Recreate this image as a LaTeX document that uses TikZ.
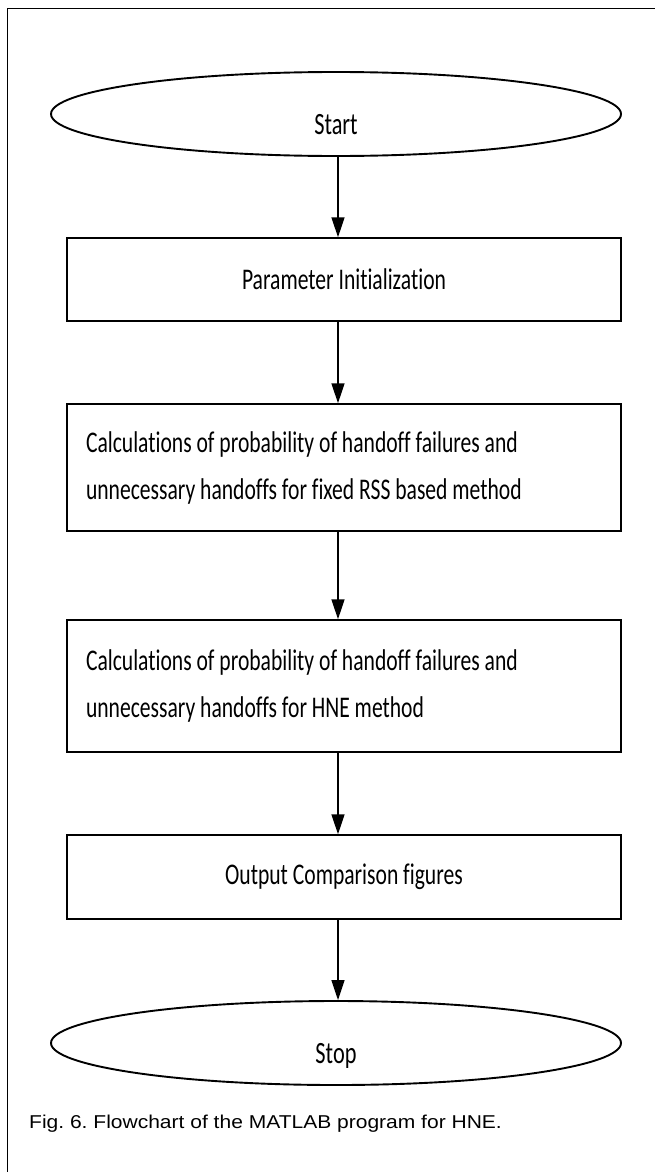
\documentclass[tikz,border=0pt]{standalone}
\usepackage{fontspec}
\setmainfont{Carlito}[FakeStretch=0.72,Ligatures=NoCommon]
\newfontfamily\capfont{Liberation Sans}[FakeStretch=1.13]
\usetikzlibrary{arrows.meta,shapes.geometric}
\frenchspacing
% terminal label set low inside its ellipse
\newcommand{\lowlabel}[2]{\raisebox{#1}[21pt][0pt]{#2}}
\begin{document}
\begin{tikzpicture}[x=1pt,y=-1pt,
  terminal/.style={ellipse,draw,line width=1.9pt,minimum width=570pt,
    minimum height=84pt,inner sep=0pt,font=\fontsize{31}{36}\selectfont},
  stepbox/.style={rectangle,draw,line width=1.5pt,minimum width=554pt,
    inner sep=0pt,font=\fontsize{30}{47}\selectfont},
  wrapped/.style={text width=516pt,align=flush left},
  flow/.style={line width=1.5pt,-{Triangle[length=20pt,width=13pt]}},
  frame/.style={line width=1.3pt}
]
\useasboundingbox (0,0) rectangle (655,1172);

% open frame: top and left edges only
\coordinate (fr) at (655,8.3);
\coordinate (fc) at (7.5,8.3);
\coordinate (fb) at (7.5,1172);
\draw[frame] (fr) -- (fc) -- (fb);

% flowchart steps
\node[terminal] (start) at (336,114) {\lowlabel{-10pt}{Start}};
\node[stepbox,minimum height=83pt] (init) at (344,279.5) {Parameter Initialization};
\node[stepbox,wrapped,minimum height=127pt] (fixed) at (344,467.5)
  {Calculations of probability of handoff failures and\\unnecessary handoffs for fixed RSS based method};
\node[stepbox,wrapped,minimum height=132pt] (hne) at (344,686)
  {Calculations of probability of handoff failures and\\unnecessary handoffs for HNE method};
\node[stepbox,minimum height=84pt] (out) at (344,877) {Output Comparison figures};
\node[terminal] (stop) at (336,1043) {\lowlabel{-10pt}{Stop}};

% vertical flow line
\coordinate (axis) at (338,0);
\draw[flow] (start.south -| axis) -- (init.north -| axis);
\draw[flow] (init.south -| axis) -- (fixed.north -| axis);
\draw[flow] (fixed.south -| axis) -- (hne.north -| axis);
\draw[flow] (hne.south -| axis) -- (out.north -| axis);
\draw[flow] (out.south -| axis) -- (stop.north -| axis);

% caption
\node[anchor=base west,inner sep=0pt,font=\capfont\fontsize{18.6}{22}\selectfont] (cap) at (29,1128)
  {Fig. 6. Flowchart of the MATLAB program for HNE.};
\end{tikzpicture}
\end{document}
